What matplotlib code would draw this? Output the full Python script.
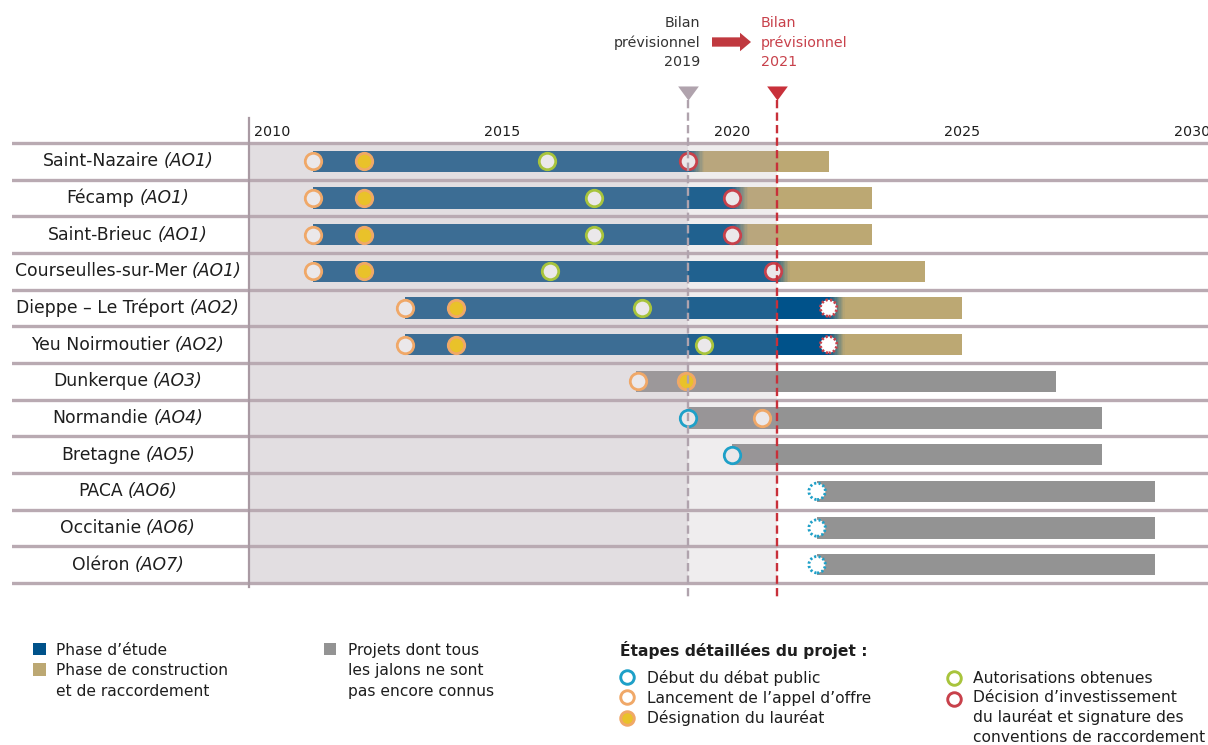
import numpy as np
import matplotlib
matplotlib.use('Agg')
import matplotlib.pyplot as plt
from matplotlib.patches import FancyArrow
from matplotlib.path import Path
from matplotlib import transforms

# Projets et appels d'offres
projets = ["Saint-Nazaire", "Fécamp", "Saint-Brieuc", "Courseulles-sur-Mer",
           "Dieppe – Le Tréport", "Yeu Noirmoutier", "Dunkerque", "Normandie",
           "Bretagne", "PACA", "Occitanie", "Oléron"]
appels = ["AO1", "AO1", "AO1", "AO1", "AO2", "AO2", "AO3", "AO4", "AO5", "AO6", "AO6", "AO7"]

# Phases (annees decimales) - projets attribues (lignes 0 a 5)
etude_debut = [2011.4, 2011.4, 2011.4, 2011.4, 2013.4, 2013.4]
construction_debut = [2019.55, 2020.5, 2020.5, 2021.4, 2022.6, 2022.6]
construction_fin = [2022.6, 2023.55, 2023.55, 2024.7, 2025.5, 2025.5]

# Projets dont les jalons ne sont pas connus (lignes 6 a 11)
inconnu_debut = [2018.42, 2019.55, 2020.5, 2022.35, 2022.35, 2022.35]
inconnu_fin = [2027.55, 2028.55, 2028.55, 2029.7, 2029.7, 2029.7]

nan = np.nan
# Jalons
debat_public = [nan, nan, nan, nan, nan, nan, nan, 2019.55, 2020.5, 2022.35, 2022.35, 2022.35]
appel_offre = [2011.4, 2011.4, 2011.4, 2011.4, 2013.4, 2013.4, 2018.45, 2021.15, nan, nan, nan, nan]
laureat = [2012.5, 2012.5, 2012.5, 2012.5, 2014.5, 2014.5, 2019.5, nan, nan, nan, nan, nan]
autorisations = [2016.48, 2017.5, 2017.5, 2016.54, 2018.55, 2019.9, nan, nan, nan, nan, nan, nan]
decision = [2019.55, 2020.5, 2020.5, 2021.4, 2022.6, 2022.6, nan, nan, nan, nan, nan, nan]
# jalons previsionnels (cercle en pointilles)
debat_prevu = [False] * 9 + [True, True, True]
decision_prevue = [False] * 4 + [True, True] + [False] * 6

annees = [2010, 2015, 2020, 2025, 2030]
bilan_2019 = 2019.55
bilan_2021 = 2021.47

BLEU = '#00528a'
BEIGE = '#bca873'
GRIS = '#939393'
C_DEBAT = '#1ea0c8'
C_AO = '#f0a868'
C_LAUR = '#e9c22a'
C_AUTO = '#a8c43c'
C_DEC = '#c8414b'
FOND = '#ebe8ea'
TXT = '#1e1e1e'

W, H = 1208, 745
fig = plt.figure(figsize=(W / 100, H / 100), dpi=100)
fig.patch.set_facecolor('white')

# axe principal : x en annees, y en lignes
def ypx(px):
    return -0.5 + (px - 143) / 36.667

ax = fig.add_axes([12 / W, 1 - 600 / H, (1208 - 12) / W, (600 - 85) / H])
ax.set_xlim(2010 - 237 / 46, 2010 + 959 / 46)
ax.set_ylim(ypx(600), ypx(85))
ax.axis('off')

n = len(projets)
lignes = np.arange(n)

# fonds grises
ax.fill_between([2010, bilan_2019], -0.5, n - 0.5, color='#aea2a9', alpha=0.35, lw=0, zorder=3)
ax.fill_between([bilan_2019, bilan_2021], -0.5, n - 0.5, color='#aea2a9', alpha=0.19, lw=0, zorder=3)

hb = 0.58
# barres bleues / beiges avec degrade
bleu = np.array(matplotlib.colors.to_rgb(BLEU))
beige = np.array(matplotlib.colors.to_rgb(BEIGE))
for i in range(len(etude_debut)):
    ax.barh(i, construction_debut[i] - etude_debut[i], left=etude_debut[i], height=hb, color=BLEU, lw=0, zorder=2)
    steps = 12
    dg = 0.35 / steps
    for k in range(steps):
        f = (k + 0.5) / steps
        ax.barh(i, dg, left=construction_debut[i] + k * dg, height=hb,
                color=bleu * (1 - f) + beige * f, lw=0, zorder=2)
    ax.barh(i, construction_fin[i] - construction_debut[i] - 0.35, left=construction_debut[i] + 0.35,
            height=hb, color=BEIGE, lw=0, zorder=2)

for j in range(len(inconnu_debut)):
    i = j + len(etude_debut)
    ax.barh(i, inconnu_fin[j] - inconnu_debut[j], left=inconnu_debut[j], height=hb, color=GRIS, lw=0, zorder=2)

# lignes de separation
for k in range(n + 1):
    ax.axhline(k - 0.5, color='#b9aab2', lw=2.4, zorder=4)
ax.plot([2010, 2010], [ypx(118), n - 0.4], color='#a99aa3', lw=1.6, zorder=4)

# jalons
S = 140
LW = 2.0
def jalons(vals, edge, face, prevus=None):
    vals = np.array(vals, dtype=float)
    ok = ~np.isnan(vals)
    if prevus is None:
        prevus = [False] * len(vals)
    prevus = np.array(prevus)
    m = ok & ~prevus
    ax.scatter(vals[m], lignes[m], s=S, facecolor=face, edgecolor=edge, linewidths=LW, zorder=6)
    m = ok & prevus
    if m.any():
        ax.scatter(vals[m], lignes[m], s=S, facecolor='white', edgecolor=edge, linewidths=LW,
                   linestyle=(0, (0.8, 0.8)), zorder=6)

jalons(debat_public, C_DEBAT, FOND, debat_prevu)
jalons(appel_offre, C_AO, FOND)
jalons(laureat, C_AO, C_LAUR)
jalons(autorisations, C_AUTO, FOND)
jalons(decision, C_DEC, FOND, decision_prevue)

# lignes des bilans
ax.plot([bilan_2019] * 2, [ypx(100), ypx(598)], color='#b0a3ad', lw=1.7, dashes=(3.5, 1.8), zorder=7, clip_on=False)
ax.plot([bilan_2021] * 2, [ypx(100), ypx(598)], color='#c8303a', lw=1.7, dashes=(3.5, 1.8), zorder=7, clip_on=False)
tri = Path([(-1, 0.68), (1, 0.68), (0, -0.68), (-1, 0.68)])
ax.plot(bilan_2019, ypx(93), marker=tri, ms=14.9, color='#b0a3ad', mew=0, clip_on=False, zorder=7)
ax.plot(bilan_2021, ypx(93), marker=tri, ms=14.9, color='#c8303a', mew=0, clip_on=False, zorder=7)

# annees
for a in annees:
    ax.text(a + 0.5, ypx(132), str(a), ha='center', va='center', fontsize=10.3, color=TXT, clip_on=False)

# calque en pixels pour les textes
ov = fig.add_axes([0, 0, 1, 1])
ov.set_xlim(0, W)
ov.set_ylim(H, 0)
ov.axis('off')

# noms des projets
r = fig.canvas.get_renderer()
tr = transforms.blended_transform_factory(ov.transData, ax.transData)
for i in range(n):
    t1 = ov.text(0, i, projets[i], transform=tr, ha='left', va='center', fontsize=12.4, color=TXT)
    t2 = ov.text(0, i, "(" + appels[i] + ")", transform=tr, ha='left', va='center', fontsize=12.4,
                 style='italic', color=TXT)
    w1 = t1.get_window_extent(r).width
    w2 = t2.get_window_extent(r).width
    x0 = 128 - (w1 + 5 + w2) / 2
    t1.set_x(x0)
    t2.set_x(x0 + w1 + 5)

# titres des bilans
for k, l in enumerate(["Bilan", "prévisionnel", "2019"]):
    ov.text(700, 27.3 + 19.2 * k, l, ha='right', va='baseline', fontsize=10.3, color='#333333')
for k, l in enumerate(["Bilan", "prévisionnel", "2021"]):
    ov.text(761, 27.3 + 19.2 * k, l, ha='left', va='baseline', fontsize=10.3, color=C_DEC)
ov.add_patch(FancyArrow(712, 42, 39, 0, width=9.3, head_width=18.5, head_length=11,
                        length_includes_head=True, color='#c0393f', lw=0))

# legende
FS = 11.2
ov.add_patch(plt.Rectangle((33.3, 642.7), 12.4, 12.4, color=BLEU, lw=0))
ov.add_patch(plt.Rectangle((33.3, 663.3), 12.4, 12.4, color=BEIGE, lw=0))
ov.add_patch(plt.Rectangle((324, 642.7), 12.4, 12.4, color=GRIS, lw=0))
for k, l in enumerate(["Phase d’étude", "Phase de construction", "et de raccordement"]):
    ov.text(56, 655 + 20.3 * k, l, ha='left', va='baseline', fontsize=FS, color=TXT)
for k, l in enumerate(["Projets dont tous", "les jalons ne sont", "pas encore connus"]):
    ov.text(347.5, 655 + 20.3 * k, l, ha='left', va='baseline', fontsize=FS, color=TXT)

ov.text(620, 656, "Étapes détaillées du projet :", ha='left', va='baseline', fontsize=FS,
        fontweight='bold', color=TXT)
leg_g = [("Début du débat public", C_DEBAT, 'white'),
         ("Lancement de l’appel d’offre", C_AO, 'white'),
         ("Désignation du lauréat", C_AO, C_LAUR)]
for k, (l, e, f) in enumerate(leg_g):
    ov.scatter(626.7, 677 + 20.3 * k, s=95, facecolor=f, edgecolor=e, linewidths=2.1)
    ov.text(647.3, 683.3 + 20 * k, l, ha='left', va='baseline', fontsize=FS, color=TXT)
ov.scatter(954, 677.5, s=95, facecolor='white', edgecolor=C_AUTO, linewidths=2.1)
ov.scatter(954, 699, s=95, facecolor='white', edgecolor=C_DEC, linewidths=2.1)
for k, l in enumerate(["Autorisations obtenues", "Décision d’investissement",
                       "du lauréat et signature des", "conventions de raccordement"]):
    ov.text(972.7, 682.7 + 19.7 * k, l, ha='left', va='baseline', fontsize=FS, color=TXT)

fig.savefig('out.png', dpi=100)
